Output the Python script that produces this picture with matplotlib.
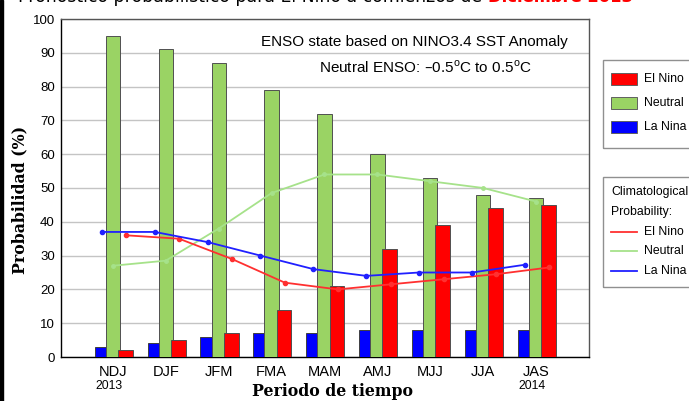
import matplotlib
matplotlib.use("Agg")
import matplotlib.pyplot as plt
import numpy as np
from matplotlib.patches import Rectangle
from matplotlib.lines import Line2D
from matplotlib.transforms import blended_transform_factory

plt.rcParams['font.family'] = ['Liberation Sans', 'DejaVu Sans']

periods = ['NDJ', 'DJF', 'JFM', 'FMA', 'MAM', 'AMJ', 'MJJ', 'JJA', 'JAS']
el_nino = [2, 5, 7, 14, 21, 32, 39, 44, 45]
neutral = [95, 91, 87, 79, 72, 60, 53, 48, 47]
la_nina = [3, 4, 6, 7, 7, 8, 8, 8, 8]

clim_el_nino = [36, 35, 29, 22, 20, 21.5, 23, 24.5, 26.5]
clim_neutral = [27, 28.5, 38, 48.5, 54, 54, 52, 50, 46]
clim_la_nina = [37, 37, 34, 30, 26, 24, 25, 25, 27.3]

RED = '#ff0000'
GREEN = '#9ad364'
BLUE = '#0000ff'
LRED = '#ff3030'
LGREEN = '#a6e28a'
LBLUE = '#2020ff'

W, H = 689, 401
fig = plt.figure(figsize=(W / 100, H / 100), dpi=100)
ax = fig.add_axes([61 / W, 1 - 357 / H, (589 - 61) / W, (357 - 19) / H])


def fx(px):
    return px / W


def fy(py):
    return 1 - py / H


x = np.arange(len(periods))
bw = 0.27
ax.bar(x - 0.21, la_nina, bw, color=BLUE, edgecolor='#404040', linewidth=0.7, zorder=3)
ax.bar(x, neutral, bw, color=GREEN, edgecolor='#505050', linewidth=0.7, zorder=4)
ax.bar(x + 0.236, el_nino, 0.28, color=RED, edgecolor='#505050', linewidth=0.7, zorder=5)

ax.plot(x, clim_neutral, color=LGREEN, lw=1.3, marker='o', ms=2.5, zorder=6)
ax.plot(x + 0.25, clim_el_nino, color=LRED, lw=1.3, marker='o', ms=3, zorder=7)
ax.plot(x - 0.21, clim_la_nina, color=LBLUE, lw=1.3, marker='o', ms=3, zorder=8)

ax.set_xlim(-0.98, 9.0)
ax.set_ylim(0, 100)
ax.set_yticks(range(0, 101, 10))
ax.set_xticks(x)
ax.set_xticklabels(periods, fontsize=10.5)
ax.tick_params(axis='y', length=0, pad=4.5, labelsize=9.5)
ax.tick_params(axis='x', length=0, pad=5.5)
ax.yaxis.grid(True, color='#c4c4c4', lw=1)
ax.set_axisbelow(True)
for s in ax.spines.values():
    s.set_color('#555555')
    s.set_linewidth(1)
ax.spines['left'].set_color('black')
ax.spines['bottom'].set_color('black')

tr = blended_transform_factory(ax.transData, ax.transAxes)
ax.text(-0.08, -0.085, '2013', transform=tr, fontsize=8.8, ha='center', va='center')
ax.text(7.92, -0.085, '2014', transform=tr, fontsize=8.8, ha='center', va='center')

ax.text(fx(414), fy(42), 'ENSO state based on NINO3.4 SST Anomaly', transform=fig.transFigure,
        fontsize=11, ha='center', va='center', zorder=10)
ax.text(fx(425), fy(67), 'Neutral ENSO: \u20130.5$^\\mathregular{o}$C to 0.5$^\\mathregular{o}$C',
        transform=fig.transFigure, fontsize=11, ha='center', va='center', zorder=10)

fig.text(fx(332), fy(391), 'Periodo de tiempo', family='DejaVu Serif', weight='bold',
         fontsize=11.3, ha='center', va='center')
fig.text(fx(20), fy(200), 'Probabilidad (%)', family='DejaVu Serif', weight='bold',
         fontsize=11.3, ha='center', va='center', rotation=90)

# title, cut off at the top edge
fig.text(fx(18), fy(2.5), 'Pronostico probabilistico para El Nino a comienzos de',
         family='DejaVu Sans', fontsize=12.4, ha='left', va='baseline')
fig.text(fx(488), fy(2.5), 'Diciembre 2013', family='DejaVu Sans', fontsize=11.8,
         weight='bold', color=RED, ha='left', va='baseline')

# left black edge
fig.patches.append(Rectangle((0, 0), fx(3), 1, transform=fig.transFigure,
                             color='black', zorder=0))

# legend boxes on the right
fig.patches.append(Rectangle((fx(603), fy(148)), fx(120), fy(60) - fy(148),
                             transform=fig.transFigure, fill=False,
                             edgecolor='#909090', lw=1))
fig.patches.append(Rectangle((fx(603), fy(287)), fx(120), fy(177) - fy(287),
                             transform=fig.transFigure, fill=False,
                             edgecolor='#909090', lw=1))

bar_items = [('El Nino', RED), ('Neutral', GREEN), ('La Nina', BLUE)]
for i, (lab, col) in enumerate(bar_items):
    yc = 79 + 24 * i
    fig.patches.append(Rectangle((fx(611), fy(yc + 6)), fx(26), fy(yc - 6) - fy(yc + 6),
                                 transform=fig.transFigure, facecolor=col,
                                 edgecolor='#606060', lw=0.7))
    fig.text(fx(644), fy(yc), lab, fontsize=8.8, va='center', ha='left')

fig.text(fx(611), fy(192), 'Climatological', fontsize=8.8, va='center', ha='left')
fig.text(fx(611), fy(212), 'Probability:', fontsize=8.8, va='center', ha='left')
line_items = [('El Nino', LRED), ('Neutral', LGREEN), ('La Nina', LBLUE)]
for i, (lab, col) in enumerate(line_items):
    yc = 232 + 19.5 * i
    fig.lines.append(Line2D([fx(611), fx(637)], [fy(yc), fy(yc)], transform=fig.transFigure,
                            color=col, lw=1.3))
    fig.text(fx(644), fy(yc), lab, fontsize=8.8, va='center', ha='left')

fig.savefig('out.png', dpi=100)
